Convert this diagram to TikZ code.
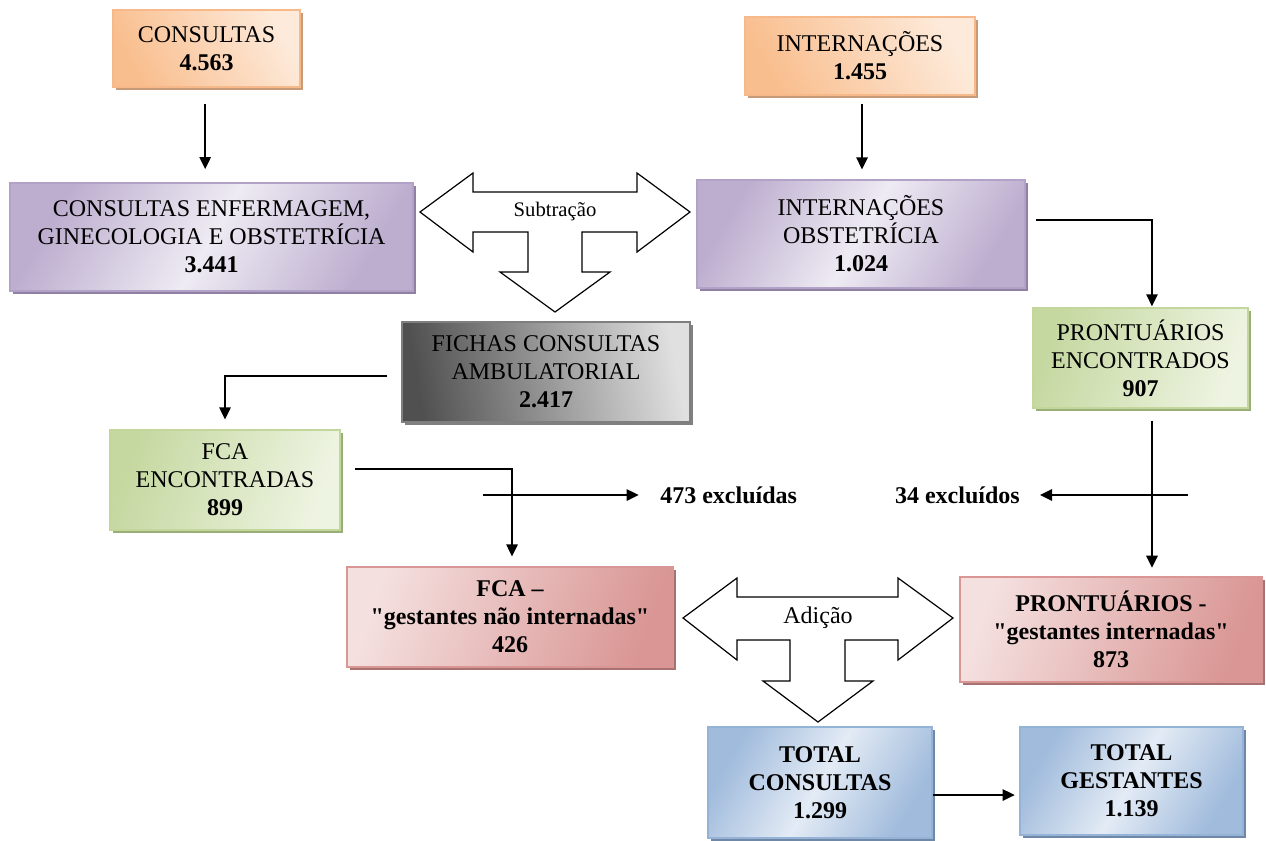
\documentclass[tikz,border=0pt]{standalone}
\usepackage{fontspec}
\setmainfont{Liberation Serif}
\usetikzlibrary{arrows.meta,shadows}
\definecolor{orL}{HTML}{FDEADA}
\definecolor{orD}{HTML}{F9BE8E}
\definecolor{orB}{HTML}{F7B88A}
\definecolor{orS}{HTML}{C79B78}
\definecolor{puL}{HTML}{EEEBF3}
\definecolor{puD}{HTML}{BDAECF}
\definecolor{puB}{HTML}{B3A2C7}
\definecolor{puS}{HTML}{8F80A4}
\definecolor{grL}{HTML}{E0E0E0}
\definecolor{grD}{HTML}{505050}
\definecolor{grB}{HTML}{7F7F7F}
\definecolor{grS}{HTML}{808080}
\definecolor{gnL}{HTML}{EEF4E2}
\definecolor{gnD}{HTML}{C5D8A0}
\definecolor{gnB}{HTML}{C3D69B}
\definecolor{gnS}{HTML}{9AAE78}
\definecolor{rdL}{HTML}{F4E0DF}
\definecolor{rdD}{HTML}{D99694}
\definecolor{rdB}{HTML}{D99694}
\definecolor{rdS}{HTML}{A87270}
\definecolor{blL}{HTML}{E3EBF5}
\definecolor{blD}{HTML}{A0BBDC}
\definecolor{blB}{HTML}{95B3D7}
\definecolor{blS}{HTML}{6F88A8}
\begin{document}
\begin{tikzpicture}[x=0.75pt,y=-0.75pt,
  box/.style={line width=0.9pt, align=center, inner sep=2pt,
    font=\fontsize{18}{21}\selectfont},
  bbox/.style={font=\fontsize{18}{21}\selectfont\bfseries},
  sz/.style 2 args={minimum width=#1*0.75pt, minimum height=#2*0.75pt},
  shad/.style={general shadow={fill=#1, shadow xshift=2.4pt, shadow yshift=-2.4pt}},
  orbox/.style={box, draw=orB, left color=orD, right color=orL, shading angle=120, shad=orS},
  pubox/.style={box, draw=puB, left color=puD, right color=puD, middle color=puL, shading angle=60, shad=puS},
  grbox/.style={box, draw=grB, left color=grD, right color=grL, shading angle=100, shad=grS},
  gnbox/.style={box, draw=gnB, left color=gnD, right color=gnL, shading angle=70, shad=gnS},
  rdbox/.style={box, draw=rdB, left color=rdL, right color=rdD, shading angle=70, shad=rdS},
  blbox/.style={box, draw=blB, left color=blD, right color=blD, middle color=blL, shading angle=60, shad=blS},
  arr/.style={line width=1.3pt, -{Triangle[length=9pt,width=8.5pt]}},
  bigarrow/.style={draw, line width=0.9pt, fill=white, line join=miter},
  lbl/.style={font=\fontsize{18}{21}\selectfont\bfseries, inner sep=0pt}
]
\useasboundingbox (0,0) rectangle (1266,840);

% boxes
\node[orbox, sz={187}{77}] (cons) at (206.5,48.5) {CONSULTAS\\\textbf{4.563}};
\node[orbox, sz={230}{78}] (intern) at (860,56) {INTERNAÇÕES\\\textbf{1.455}};
\node[pubox, sz={403}{108}] (consenf) at (211.5,237) {CONSULTAS ENFERMAGEM,\\GINECOLOGIA E OBSTETRÍCIA\\\textbf{3.441}};
\node[pubox, sz={328}{108}] (intobst) at (861,234) {INTERNAÇÕES\\OBSTETRÍCIA\\\textbf{1.024}};
\node[grbox, sz={288}{100}] (fichas) at (546,372) {FICHAS CONSULTAS\\AMBULATORIAL\\\textbf{2.417}};
\node[gnbox, sz={230}{100}] (fcaenc) at (225,480) {FCA\\ENCONTRADAS\\\textbf{899}};
\node[gnbox, sz={215}{100}] (prontenc) at (1140.5,358) {PRONTUÁRIOS\\ENCONTRADOS\\\textbf{907}};
\node[rdbox, bbox, sz={326}{100}] (fcages) at (510,617) {FCA –\\\textquotedbl gestantes não internadas\textquotedbl\\426};
\node[rdbox, bbox, sz={302}{105}] (prontges) at (1111,629.5) {PRONTUÁRIOS -\\\textquotedbl gestantes internadas\textquotedbl\\873};
\node[blbox, bbox, sz={224}{111}] (totcons) at (820,782.5) {TOTAL\\CONSULTAS\\1.299};
\node[blbox, bbox, sz={223}{108}] (totges) at (1131.5,781) {TOTAL\\GESTANTES\\1.139};

% labels
\node[lbl, anchor=west] (exc1) at (660,495) {473 excluídas};
\node[lbl, anchor=east] (exc2) at (1020,495) {34 excluídos};
\coordinate (e1s) at (483,495);
\coordinate (e2s) at (1188,495);

% big arrows
\draw[bigarrow] (420,212) -- (473,173) -- (473,192) -- (637,192) -- (637,173) -- (690,212) -- (637,252) -- (637,232) -- (582,232) -- (582,272) -- (610,272) -- (555,312) -- (500,272) -- (528,272) -- (528,232) -- (473,232) -- (473,252) -- cycle;
\node[font=\fontsize{15.5}{18}\selectfont, inner sep=0pt] (sub) at (555,212) {Subtração};
\draw[bigarrow] (683,618) -- (737,578) -- (737,597) -- (898,597) -- (898,578) -- (953,618) -- (898,660) -- (898,640) -- (845,640) -- (845,681) -- (873,681) -- (818,722) -- (763,681) -- (790,681) -- (790,640) -- (737,640) -- (737,660) -- cycle;
\node[font=\fontsize{18}{21}\selectfont, inner sep=0pt] (adi) at (818,618) {Adição};

% connectors
\draw[arr, shorten <=12pt, shorten >=10pt] ([xshift=-1pt]cons.south) -- ([xshift=-1pt]consenf.north -| cons.south);
\draw[arr, shorten <=6pt, shorten >=7.5pt] ([xshift=1.5pt]intern.south) -- ([xshift=1.5pt]intern.south |- intobst.north);
\draw[arr] ([xshift=7.5pt,yshift=10.5pt]intobst.east) -| ([xshift=8.6pt,yshift=0.8pt]prontenc.north);
\draw[arr] ([xshift=-10.5pt,yshift=-3pt]fichas.west) -| ([yshift=7.5pt]fcaenc.north);
\draw[arr] ([xshift=11pt,yshift=8.5pt]fcaenc.east) -| ([xshift=1.5pt,yshift=7.5pt]fcages.north);
\draw[arr, shorten >=16pt] (e1s) -- (exc1.west);
\draw[arr, shorten >=15pt] (e2s) -- (exc2.east);
\draw[arr] ([xshift=8.6pt,yshift=-9pt]prontenc.south) coordinate (p1) -- ([yshift=6.5pt]p1 |- prontges.north);
\draw[arr, shorten >=3.5pt] ([yshift=-9.4pt]totcons.east) coordinate (t1) -- (t1 -| totges.west);
\end{tikzpicture}
\end{document}
